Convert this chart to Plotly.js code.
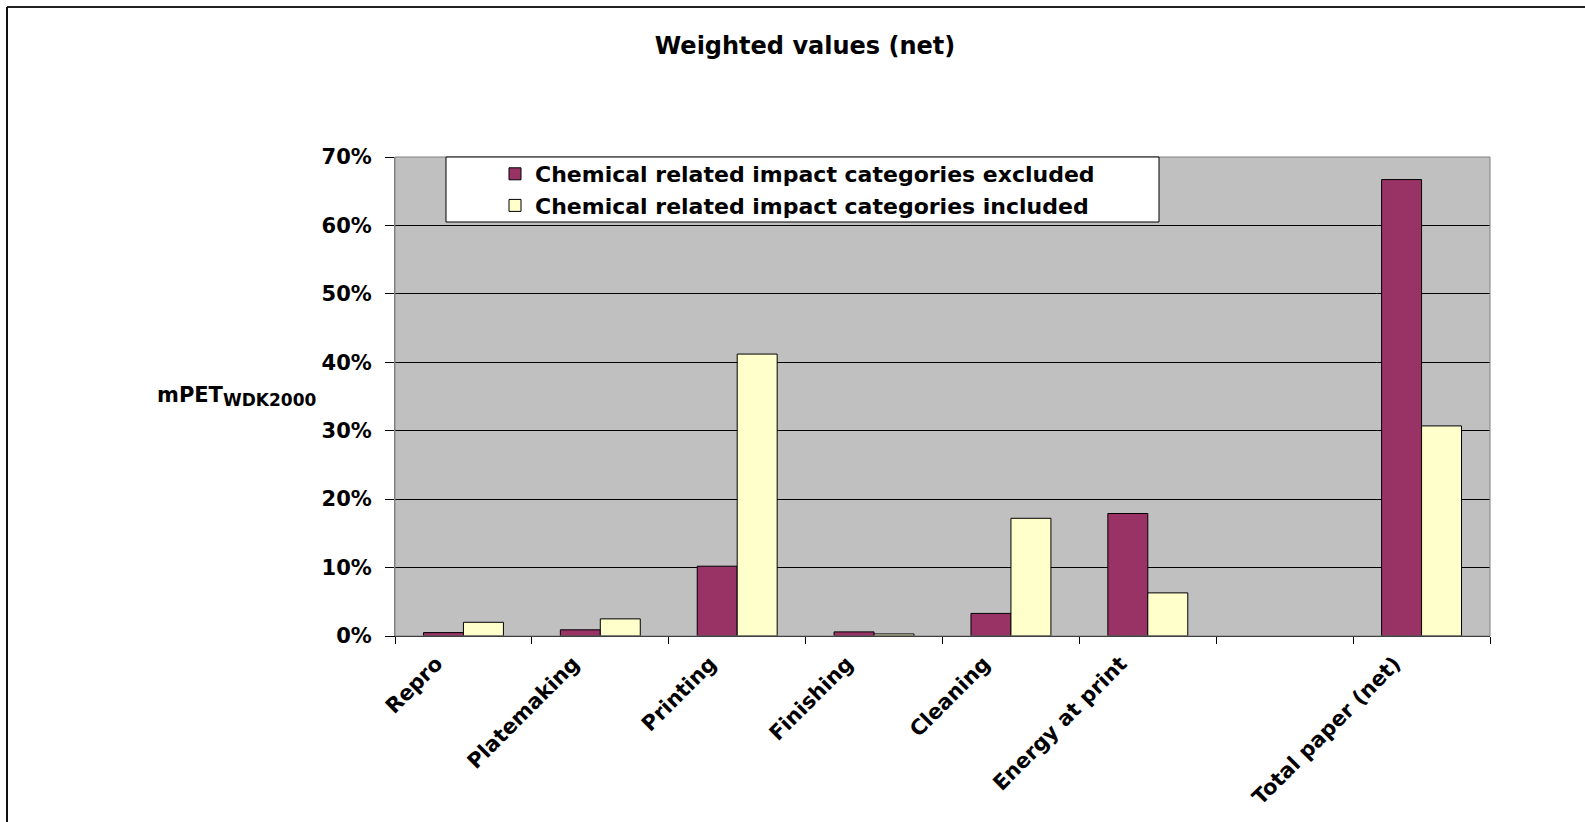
<!DOCTYPE html>
<html>
<head>
<meta charset="utf-8">
<script src="https://cdn.plot.ly/plotly-3.0.1.min.js"></script>
<style>
html,body{margin:0;padding:0;background:#fff;}
#chart{width:1585px;height:822px;}
</style>
</head>
<body>
<div id="chart"></div>
<script>
const categories = ['Repro', 'Platemaking', 'Printing', 'Finishing', 'Cleaning', 'Energy at print', ' ', 'Total paper (net)'];
const excludedValues = [0.005, 0.009, 0.102, 0.006, 0.033, 0.179, null, 0.667];
const includedValues = [0.020, 0.025, 0.412, 0.003, 0.172, 0.063, null, 0.307];
const seriesNames = ['Chemical related impact categories excluded', 'Chemical related impact categories included'];
const yTickVals = [0, 0.1, 0.2, 0.3, 0.4, 0.5, 0.6, 0.7];
const yTickText = ['0%', '10%', '20%', '30%', '40%', '50%', '60%', '70%'];

const FONT = 'DejaVu Sans, Arial, sans-serif';

// pixel -> paper helpers for decorative frame
const L = 395, R = 1490, T = 157, B = 636;
const px = v => (v - L) / (R - L);
const py = v => (B - v) / (B - T);

const traces = [
  {
    type: 'bar', name: seriesNames[0], x: categories, y: excludedValues,
    marker: {color: '#993366', line: {color: '#000000', width: 1}},
    hoverinfo: 'x+y'
  },
  {
    type: 'bar', name: seriesNames[1], x: categories, y: includedValues,
    marker: {color: '#FFFFCC', line: {color: '#000000', width: 1}},
    hoverinfo: 'x+y'
  }
];

const layout = {
  width: 1585, height: 822,
  paper_bgcolor: '#ffffff',
  plot_bgcolor: '#C0C0C0',
  margin: {l: L, r: 1585 - R, t: T, b: 822 - B},
  barmode: 'group', bargap: 0.416, bargroupgap: 0,
  font: {family: FONT, color: '#000000'},
  title: {
    text: 'Weighted values (net)',
    font: {family: FONT, size: 24, weight: 'bold', color: '#000'},
    x: 805 / 1585, xanchor: 'center', xref: 'container',
    y: 1 - 46 / 822, yanchor: 'middle', yref: 'container'
  },
  xaxis: {
    type: 'category', categoryorder: 'array', categoryarray: categories,
    showgrid: false, zeroline: false,
    showline: true, linecolor: '#000', linewidth: 1,
    ticks: 'outside', tickson: 'boundaries', ticklen: 7, tickcolor: '#000', tickwidth: 1,
    tickangle: -45,
    ticklabelshift: -27, ticklabelstandoff: 6,
    tickfont: {family: FONT, size: 21, weight: 'bold', color: '#000'}
  },
  yaxis: {
    range: [0, 0.7], tickvals: yTickVals, ticktext: yTickText,
    showgrid: true, gridcolor: '#000', gridwidth: 1,
    zeroline: false,
    showline: true, linecolor: '#808080', linewidth: 1,
    ticks: 'outside', ticklen: 9, tickcolor: '#000', tickwidth: 1,
    ticklabelstandoff: 9,
    tickfont: {family: FONT, size: 21, weight: 'bold', color: '#000'}
  },
  showlegend: true,
  legend: {
    x: px(495), xanchor: 'left', y: py(153), yanchor: 'top',
    bgcolor: 'rgba(0,0,0,0)', borderwidth: 0,
    font: {family: FONT, size: 22, weight: 'bold', color: '#000'}
  },
  shapes: [
    // plot-area border
    {type: 'rect', xref: 'paper', yref: 'paper', x0: 0, x1: 1, y0: 0, y1: 1,
     line: {color: '#808080', width: 1}, fillcolor: 'rgba(0,0,0,0)', layer: 'above'},
    // legend box
    {type: 'rect', xref: 'paper', yref: 'paper', x0: px(446), x1: px(1159), y0: py(222), y1: py(157),
     line: {color: '#000', width: 1}, fillcolor: '#ffffff', layer: 'above'},
    // chart outer frame (top & left)
    {type: 'line', xref: 'paper', yref: 'paper', x0: px(7), x1: px(1585), y0: py(7), y1: py(7),
     line: {color: '#222', width: 2}},
    {type: 'line', xref: 'paper', yref: 'paper', x0: px(7), x1: px(7), y0: py(7), y1: py(822),
     line: {color: '#111', width: 2}}
  ],
  annotations: [
    {text: 'mPET<sub><span style="font-size:17px">WDK2000</span></sub>', xref: 'paper', yref: 'paper',
     x: px(155), xanchor: 'left', y: py(396), yanchor: 'middle', showarrow: false,
     font: {family: FONT, size: 21, weight: 'bold', color: '#000'}}
  ]
};

Plotly.newPlot('chart', traces, layout, {displayModeBar: false, staticPlot: true});
</script>
</body>
</html>
